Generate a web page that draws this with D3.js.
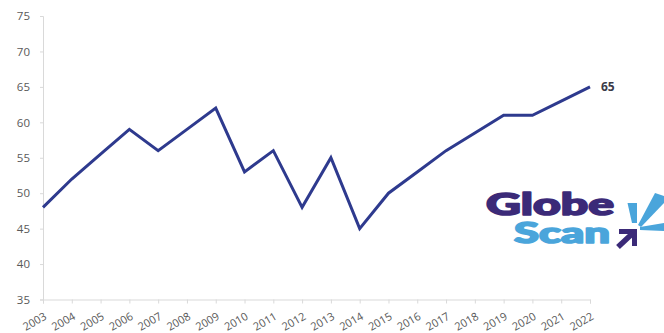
<!DOCTYPE html>
<html>
<head>
<meta charset="utf-8">
<script src="https://cdn.jsdelivr.net/npm/d3@7"></script>
<style>
  html, body { margin: 0; padding: 0; background: #fff; }
  svg { display: block; }
</style>
</head>
<body>
<svg id="chart" width="664" height="333"></svg>
<script>
// Yearly index values
const years = ["2003","2004","2005","2006","2007","2008","2009","2010","2011","2012",
               "2013","2014","2015","2016","2017","2018","2019","2020","2021","2022"];
const values = [48, 52, 55.5, 59, 56, 59, 62, 53, 56, 48,
                55, 45, 50, 53, 56, 58.5, 61, 61, 63, 65];
const yTicks = [35, 40, 45, 50, 55, 60, 65, 70, 75];

const svg = d3.select("#chart");
const plotLeft = 43, plotRight = 590, plotTop = 16, plotBottom = 299.5;

const x = d3.scalePoint().domain(years).range([plotLeft, plotRight]);
const y = d3.scaleLinear().domain([35, 75]).range([plotBottom, plotTop]);

const axisColor = "#d9d9d9";
const textColor = "#595959";
const font = "'Open Sans', 'Noto Sans', sans-serif";

// Y axis
const gy = svg.append("g")
  .attr("transform", `translate(${plotLeft},0)`)
  .call(d3.axisLeft(y).tickValues(yTicks).tickSize(3).tickPadding(10));
gy.select(".domain").attr("stroke", axisColor);
gy.selectAll(".tick line").attr("stroke", axisColor);
gy.selectAll(".tick text")
  .attr("fill", textColor).attr("font-size", 11.5).attr("font-family", font);

// X axis
const gx = svg.append("g")
  .attr("transform", `translate(0,${plotBottom})`)
  .call(d3.axisBottom(x).tickSize(4));
gx.select(".domain").attr("stroke", axisColor);
gx.selectAll(".tick line").attr("stroke", axisColor);
gx.selectAll(".tick text")
  .attr("fill", textColor).attr("font-size", 11).attr("font-family", font)
  .attr("text-anchor", "end")
  .attr("x", 0).attr("y", 0).attr("dy", 0)
  .attr("transform", "translate(4,19) rotate(-30)");

// Series line
const line = d3.line()
  .x((d, i) => x(years[i]))
  .y(d => y(d));

svg.append("path")
  .datum(values)
  .attr("fill", "none")
  .attr("stroke", "#2e3a8e")
  .attr("stroke-width", 3)
  .attr("stroke-linejoin", "miter")
  .attr("d", line);

// End value label
const lastIdx = values.length - 1;
svg.append("text")
  .attr("x", x(years[lastIdx]) + 11)
  .attr("y", y(values[lastIdx]) + 4.5)
  .attr("font-family", font)
  .attr("font-weight", 700)
  .attr("font-size", 12)
  .attr("fill", "#3a3a48")
  .text(values[lastIdx]);

// GlobeScan logo
const logo = svg.append("g");
logo.append("text")
  .attr("x", 486).attr("y", 214.5)
  .attr("font-family", "Lato, 'Open Sans', sans-serif")
  .attr("font-weight", 900)
  .attr("font-size", 30)
  .attr("textLength", 128)
  .attr("lengthAdjust", "spacingAndGlyphs")
  .attr("fill", "#3b2a78")
  .attr("stroke", "#3b2a78")
  .attr("stroke-width", 1.6)
  .attr("stroke-linejoin", "round")
  .text("Globe");
logo.append("text")
  .attr("x", 514).attr("y", 243)
  .attr("font-family", "Lato, 'Open Sans', sans-serif")
  .attr("font-weight", 900)
  .attr("font-size", 28)
  .attr("textLength", 96)
  .attr("lengthAdjust", "spacingAndGlyphs")
  .attr("fill", "#4aa5db")
  .attr("stroke", "#4aa5db")
  .attr("stroke-width", 1.6)
  .attr("stroke-linejoin", "round")
  .text("Scan");

// burst rays
const rayColor = "#4aa5db";
logo.append("path").attr("fill", rayColor)
  .attr("d", "M627.5,203 L637,203 L637,223 L632,223 Z");
logo.append("path").attr("fill", rayColor)
  .attr("d", "M638,225 L655,193 L664,196 L664,203 L641,227 Z");
logo.append("path").attr("fill", rayColor)
  .attr("d", "M640,227 L664,223 L664,231 L640,230 Z");
// arrow
logo.append("path")
  .attr("fill", "none")
  .attr("stroke", "#3b2a78")
  .attr("stroke-width", 5)
  .attr("stroke-linejoin", "miter")
  .attr("d", "M619,231.5 L634.5,231.5 L634.5,246");
logo.append("path")
  .attr("fill", "none")
  .attr("stroke", "#3b2a78")
  .attr("stroke-width", 5.5)
  .attr("d", "M618,247 L633,233");
</script>
</body>
</html>
